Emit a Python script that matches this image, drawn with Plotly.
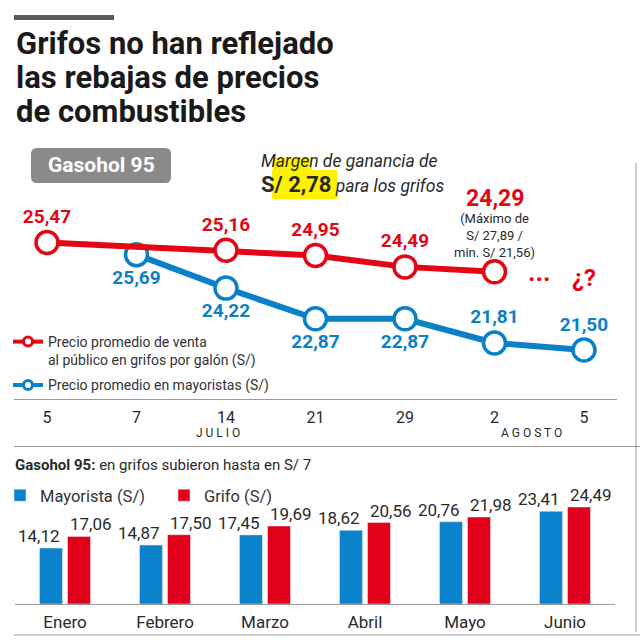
import plotly.graph_objects as go

# ---------------- data ----------------
dates = ["5", "7", "14", "21", "29", "2", "5"]
month_labels = ["J U L I O", "A G O S T O"]
grifo_prices = [25.47, None, 25.16, 24.95, 24.49, 24.29, None]
mayorista_prices = [None, 25.69, 24.22, 22.87, 22.87, 21.81, 21.50]
grifo_note = "(Máximo de<br>S/ 27,89 /<br>min. S/ 21,56)"

months = ["Enero", "Febrero", "Marzo", "Abril", "Mayo", "Junio"]
bar_mayorista = [14.12, 14.87, 17.45, 18.62, 20.76, 23.41]
bar_grifo = [17.06, 17.50, 19.69, 20.56, 21.98, 24.49]

RED = "#e30613"
BLUE = "#0a80c8"
BAR_RED = "#e2001a"
BAR_BLUE = "#0b83cc"
DARK = "#2a2a2a"
GRAY_LINE = "#9a9a9a"
FONT = "Roboto"
COND = "Liberation Sans Narrow, Roboto"
BARGAP = 0.44
BARGROUPGAP = 0.18


def fmt(v):
    return f"{v:.2f}".replace(".", ",")


idx = list(range(len(dates)))
red_x = [i for i, v in zip(idx, grifo_prices) if v is not None]
red_y = [v for v in grifo_prices if v is not None]
blue_x = [i for i, v in zip(idx, mayorista_prices) if v is not None]
blue_y = [v for v in mayorista_prices if v is not None]

red_text = [fmt(v) for v in red_y]
red_text[-1] = ""  # last one drawn larger with its note
blue_text = [fmt(v) for v in blue_y]
blue_pos = ["bottom center"] * 4 + ["top center"] * 2

fig = go.Figure()

fig.add_trace(go.Scatter(
    x=red_x, y=red_y, yaxis="y2", xaxis="x", mode="lines+markers+text",
    line=dict(color=RED, width=6),
    marker=dict(size=22, color="white", line=dict(color=RED, width=3.5)),
    text=red_text, textposition="top center",
    textfont=dict(family=FONT, size=19, color=RED, weight="bold"),
    showlegend=False, cliponaxis=False,
))
fig.add_trace(go.Scatter(
    x=blue_x, y=blue_y, yaxis="y", xaxis="x", mode="lines+markers+text",
    line=dict(color=BLUE, width=6),
    marker=dict(size=22, color="white", line=dict(color=BLUE, width=3.5)),
    text=blue_text, textposition=blue_pos,
    textfont=dict(family=FONT, size=19, color=BLUE, weight="bold"),
    showlegend=False, cliponaxis=False,
))
# legend entries for line chart
fig.add_trace(go.Scatter(
    x=[None], y=[None], mode="lines+markers", legend="legend", legendgroup="g1",
    name="Precio promedio de venta<br>al público en grifos por galón (S/)",
    line=dict(color=RED, width=4),
    marker=dict(size=9, color="white", line=dict(color=RED, width=3)),
))
fig.add_trace(go.Scatter(
    x=[None], y=[None], mode="lines+markers", legend="legend", legendgroup="g2",
    name="Precio promedio en mayoristas (S/)",
    line=dict(color=BLUE, width=4),
    marker=dict(size=9, color="white", line=dict(color=BLUE, width=3)),
))

# bars
fig.add_trace(go.Bar(
    x=months, y=bar_mayorista, name="Mayorista (S/)", xaxis="x2", yaxis="y3",
    marker_color=BAR_BLUE, legend="legend2",
))
fig.add_trace(go.Bar(
    x=months, y=bar_grifo, name="Grifo (S/)", xaxis="x2", yaxis="y3",
    marker_color=BAR_RED, legend="legend2",
))

W = 640.0


def px(x):
    return x / W


def py(y):
    return 1 - y / W


def pa(text, x, y, size, color=DARK, weight="normal", family=FONT, xanchor="center"):
    return dict(text=text, x=px(x), y=py(y), xref="paper", yref="paper",
                xanchor=xanchor, yanchor="middle", showarrow=False,
                font=dict(family=family, size=size, color=color, weight=weight))


ann = []
# title
for i, line in enumerate(["Grifos no han reflejado", "las rebajas de precios", "de combustibles"]):
    ann.append(pa(line, 14, 44 + i * 33.5, 31, "#1a1a1a", "bold", COND, "left"))
ann.append(pa("Gasohol 95", 101, 165, 21, "white", "bold"))
ann.append(pa("<i>Margen de ganancia de</i>", 259, 161, 17.5, xanchor="left"))
ann.append(pa("<b><span style='font-size:22px'>S/ 2,78</span></b> <i>para los grifos</i>",
              259, 184, 17.5, xanchor="left"))
# last red point label + note
ann.append(dict(text=fmt(red_y[-1]), x=red_x[-1], y=red_y[-1], xref="x", yref="y2",
                xanchor="center", yanchor="middle", yshift=73, showarrow=False,
                font=dict(family=FONT, size=23, color=RED, weight="bold")))
ann.append(dict(text=grifo_note, x=red_x[-1], y=red_y[-1], xref="x", yref="y2",
                xanchor="center", yanchor="middle", yshift=36, showarrow=False,
                font=dict(family=FONT, size=13, color=DARK)))
ann.append(dict(text="...", x=red_x[-1] + 0.5, y=red_y[-1], xref="x", yref="y2",
                xanchor="center", yanchor="middle", yshift=0, showarrow=False,
                font=dict(family=FONT, size=26, color=RED, weight="bold")))
ann.append(dict(text="¿?", x=idx[-1], y=red_y[-1], xref="x", yref="y2",
                xanchor="center", yanchor="middle", yshift=-6, showarrow=False,
                font=dict(family=FONT, size=24, color=RED, weight="bold")))
# months
ann.append(dict(text=month_labels[0], x=1.91, y=py(433), xref="x", yref="paper",
                xanchor="center", yanchor="middle",
                showarrow=False, font=dict(family=FONT, size=12, color=DARK)))
ann.append(dict(text=month_labels[1], x=5.41, y=py(433), xref="x", yref="paper",
                xanchor="center", yanchor="middle",
                showarrow=False, font=dict(family=FONT, size=12, color=DARK)))
# bar subtitle
ann.append(pa("<b>Gasohol 95:</b> en grifos subieron hasta en S/ 7", 13, 465, 15, xanchor="left"))

# bar value labels: blue aligned to its bar's right edge, red to its bar's left edge
slot = (1 - BARGAP) / 2
inner = slot / 2 - slot * (1 - BARGROUPGAP) / 2
for i, (vb, vr) in enumerate(zip(bar_mayorista, bar_grifo)):
    ann.append(dict(text=fmt(vb), x=i - inner, y=vb, xref="x2", yref="y3",
                    xanchor="right", yanchor="bottom", showarrow=False,
                    font=dict(family=FONT, size=17, color=DARK)))
    ann.append(dict(text=fmt(vr), x=i + inner, y=vr, xref="x2", yref="y3",
                    xanchor="left", yanchor="bottom", showarrow=False,
                    font=dict(family=FONT, size=17, color=DARK)))

shapes = [
    dict(type="rect", xref="paper", yref="paper", x0=px(14), x1=px(114), y0=py(15), y1=py(20),
         fillcolor="#5a5a5a", line=dict(width=0)),
    dict(type="path", xref="paper", yref="paper",
         path=("M {a},{b} L {c},{b} Q {d},{b} {d},{e} L {d},{f} Q {d},{g} {c},{g} "
               "L {a},{g} Q {h},{g} {h},{f} L {h},{e} Q {h},{b} {a},{b} Z").format(
             a=px(37), c=px(165), d=px(171), b=py(148), e=py(154), f=py(177), g=py(183), h=px(31)),
         fillcolor="#8a8a8a", line=dict(width=0), layer="below"),
    dict(type="rect", xref="paper", yref="paper", x0=px(272), x1=px(337), y0=py(199), y1=py(170),
         fillcolor="#fff200", line=dict(width=0), layer="below"),
    dict(type="rect", xref="paper", yref="paper", x0=px(273), x1=px(312), y0=py(170), y1=py(158),
         fillcolor="#fff200", line=dict(width=0), layer="below"),
    dict(type="line", xref="paper", yref="paper", x0=px(14), x1=1, y0=py(446.5), y1=py(446.5),
         line=dict(color=GRAY_LINE, width=1)),
    dict(type="line", xref="paper", yref="paper", x0=px(14), x1=1, y0=py(635), y1=py(635),
         line=dict(color=GRAY_LINE, width=1)),
    dict(type="line", xref="paper", yref="paper", x0=px(636), x1=px(636), y0=py(163), y1=py(632),
         line=dict(color=GRAY_LINE, width=1)),
]

fig.update_layout(
    width=640, height=640, margin=dict(l=0, r=0, t=0, b=0),
    paper_bgcolor="white", plot_bgcolor="white",
    separators=",.",
    font=dict(family=FONT, color=DARK),
    annotations=ann, shapes=shapes,
    bargap=BARGAP, bargroupgap=BARGROUPGAP, barmode="group",
    xaxis=dict(domain=[px(14), px(617)], range=[(14 - 47) / 89.5, (617 - 47) / 89.5],
               tickvals=idx, ticktext=dates, anchor="y", showline=True, linecolor=GRAY_LINE,
               showgrid=False, zeroline=False, ticks="", ticklabelstandoff=4,
               tickfont=dict(size=16, color=DARK)),
    yaxis=dict(domain=[py(399), py(200)], range=[19.35, 28.09], visible=False),
    yaxis2=dict(overlaying="y", range=[19.162, 27.187], visible=False),
    xaxis2=dict(domain=[px(15), px(615)], range=[-0.5, 5.5], anchor="y3", showline=True,
                linecolor=GRAY_LINE, showgrid=False, zeroline=False, ticks="",
                ticklabelstandoff=3, tickfont=dict(size=17, color=DARK)),
    yaxis3=dict(domain=[py(604), py(500)], range=[0, 26.26], visible=False),
    legend=dict(x=px(8), y=py(326), xanchor="left", yanchor="top", valign="top",
                tracegroupgap=4,
                font=dict(size=14, color="#333"), bgcolor="rgba(0,0,0,0)"),
    legend2=dict(x=px(0), y=py(478), xanchor="left", yanchor="top", orientation="h",
                 entrywidth=119, font=dict(size=16.5, color="#333"), bgcolor="rgba(0,0,0,0)"),
)

fig.write_html("out.html", config={"displayModeBar": False},
               post_script="document.body.style.margin='0';")
